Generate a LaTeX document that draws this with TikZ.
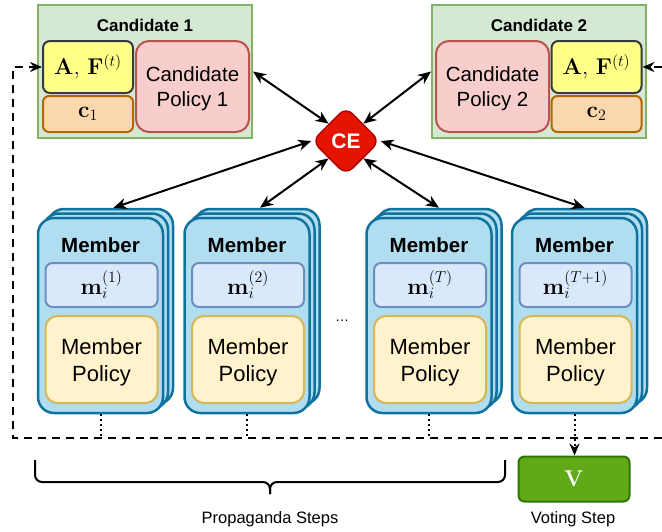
\documentclass[tikz,border=0pt]{standalone}
\usepackage{graphicx}
\usepackage[no-math]{fontspec}
\setmainfont{Liberation Sans}
\usetikzlibrary{shapes.geometric,arrows.meta}
\definecolor{cgreen}{HTML}{D5E8D4}\definecolor{cgreenb}{HTML}{82B366}
\definecolor{cyel}{HTML}{FFFF88}\definecolor{cyelb}{HTML}{36393D}
\definecolor{corg}{HTML}{FAD7AC}\definecolor{corgb}{HTML}{B46504}
\definecolor{cpink}{HTML}{F8CECC}\definecolor{cpinkb}{HTML}{B85450}
\definecolor{cred}{HTML}{E51400}\definecolor{credb}{HTML}{B20000}
\definecolor{cmem}{HTML}{B1DDF0}\definecolor{cmemb}{HTML}{10739E}
\definecolor{cblue}{HTML}{DAE8FC}\definecolor{cblueb}{HTML}{6C8EBF}
\definecolor{cpol}{HTML}{FFF2CC}\definecolor{cpolb}{HTML}{D6B656}
\definecolor{cvg}{HTML}{60A917}\definecolor{cvgb}{HTML}{2D7600}
\tikzset{
  box/.style={draw, rectangle, inner sep=0pt, align=center},
  cand/.style={box, fill=cgreen, draw=cgreenb, line width=2pt, minimum width=214pt, minimum height=133pt},
  ctitle/.style={inner sep=0pt, font=\bfseries\fontsize{17}{20}\selectfont},
  ybox/.style={box, fill=cyel, draw=cyelb, line width=2pt, rounded corners=7pt, minimum width=90pt, minimum height=52pt, font=\fontsize{20.74}{24}\selectfont},
  obox/.style={box, fill=corg, draw=corgb, line width=2pt, rounded corners=6pt, minimum width=90pt, minimum height=36pt, font=\fontsize{20.74}{24}\selectfont},
  pkbox/.style={box, fill=cpink, draw=cpinkb, line width=2pt, rounded corners=13pt, minimum width=113pt, minimum height=91pt},
  ptext/.style={inner sep=0pt, align=center, font=\fontsize{20.5}{24.5}\selectfont},
  cenode/.style={diamond, draw=credb, fill=cred, line width=1.5pt, rounded corners=9pt, minimum width=68pt, minimum height=68pt, aspect=1, inner sep=0pt, text=white, font=\bfseries\fontsize{21}{24}\selectfont},
  memb/.style={box, fill=cmem, draw=cmemb, line width=2.5pt, rounded corners=16pt, minimum width=125pt, minimum height=195pt},
  mtitle/.style={inner sep=0pt, font=\bfseries\fontsize{20.5}{24}\selectfont},
  mbox/.style={box, fill=cblue, draw=cblueb, line width=2pt, rounded corners=7pt, minimum width=112pt, minimum height=44pt, font=\fontsize{20.74}{24}\selectfont},
  pbox/.style={box, fill=cpol, draw=cpolb, line width=2pt, rounded corners=12pt, minimum width=112pt, minimum height=87pt},
  mptext/.style={inner sep=0pt, align=center, font=\fontsize{22}{27}\selectfont},
  vbox/.style={box, fill=cvg, draw=cvgb, line width=2pt, rounded corners=6pt, minimum width=111pt, minimum height=45pt, text=white, font=\fontsize{20.74}{24}\selectfont},
  lbl/.style={inner sep=0pt, font=\fontsize{16.5}{20}\selectfont},
  conn/.style={line width=2pt, {Stealth[length=13pt,width=11pt,inset=4pt]}-{Stealth[length=13pt,width=11pt,inset=4pt]}},
  dotl/.style={line width=2pt, dash pattern=on 2pt off 3pt},
  dashl/.style={line width=2pt, dash pattern=on 8pt off 6pt},
  tip/.style={-{Stealth[length=12pt,width=10pt,inset=4pt]}},
}
\newcommand{\mth}[1]{\scalebox{1.1}{$#1$}}
\newcommand{\mstack}[3]{%
  \node[memb] (#1b) at (#2+10,306.5) {};
  \node[memb] (#1m) at (#2+5,311) {};
  \node[memb] (#1) at (#2,315.5) {};
  \node[mtitle] (#1t) at (#2,245) {Member};
  \node[mbox] (#1s) at (#2+1,285) {\mth{\mathbf{m}_i^{(#3)}}};
  \node[pbox] (#1p) at (#2+1,359.5) {};
  \node[mptext] (#1pt) at (#2+1,362.5) {Member\\Policy};
}
\begin{document}
\begin{tikzpicture}[x=1pt,y=-1pt]
\useasboundingbox (0,0) rectangle (662,531);
% candidates
\node[cand] (c1) at (145,71.5) {};
\node[ctitle] (c1t) at (145,25) {Candidate 1};
\node[ybox] (y1) at (88,67) {\mth{\mathbf{A},\,\mathbf{F}^{(t)}}};
\node[obox] (o1) at (88,114) {\mth{\mathbf{c}_1}};
\node[pkbox] (p1) at (192.5,86.5) {};
\node[ptext] (p1t) at (192.5,88.5) {Candidate\\Policy 1};
\node[cand] (c2) at (539,71.5) {};
\node[ctitle] (c2t) at (539,25) {Candidate 2};
\node[pkbox] (p2) at (492.5,86.5) {};
\node[ptext] (p2t) at (492.5,88.5) {Candidate\\Policy 2};
\node[ybox] (y2) at (596.5,67) {\mth{\mathbf{A},\,\mathbf{F}^{(t)}}};
\node[obox] (o2) at (596.5,114) {\mth{\mathbf{c}_2}};
% CE
\node[cenode] (ce) at (346,141) {CE};
% members
\mstack{ma}{100.5}{1}
\mstack{mb}{247}{2}
\mstack{mc}{429}{T}
\mstack{md}{574.5}{T+1}
\node[inner sep=0pt, font=\fontsize{14}{14}\selectfont] (dots) at (342,321) {\dots};
% V
\node[vbox] (v) at (574,479) {\mth{\mathbf{V}}};
% arrows
\draw[conn] (c1.east) -- (ce.north west);
\draw[conn] (c2.west) -- (ce.north east);
\draw[conn] (ce.west) -- ([xshift=3pt]mab.north);
\draw[conn] (ce.south west) -- ([xshift=3pt]mbb.north);
\draw[conn] (ce.south east) -- (mcb.north);
\draw[conn] (ce.east) -- (mdb.north);
% loop
\coordinate (lr) at (662,438);
\coordinate (ll) at (13,438);
\coordinate (ltl) at (13,67);
\coordinate (lrt) at (662,67);
\draw[dashl, tip] (lr) -- (ll) -- (ltl) -- (y1.west);
\draw[dashl, tip] (lrt) -- (y2.east);
\draw[dotl] (ma.south) -- (ma.south |- ll);
\draw[dotl] (mb.south) -- (mb.south |- ll);
\draw[dotl] (mc.south) -- (mc.south |- ll);
\draw[dotl, tip] (md.south) -- (md.south |- v.north);
% brace
\coordinate (bl) at (35,460);
\coordinate (br) at (505,460);
\coordinate (bm) at (270,482);
\draw[line width=2pt, rounded corners=7pt] (bl) -- (bl |- bm) -- (bm) -- ++(0,12);
\draw[line width=2pt, rounded corners=7pt] (br) -- (br |- bm) -- (bm) -- ++(0,12);
\node[lbl] (pl) at (270,519) {Propaganda Steps};
\node[lbl] (vl) at (573,519) {Voting Step};
\end{tikzpicture}
\end{document}
